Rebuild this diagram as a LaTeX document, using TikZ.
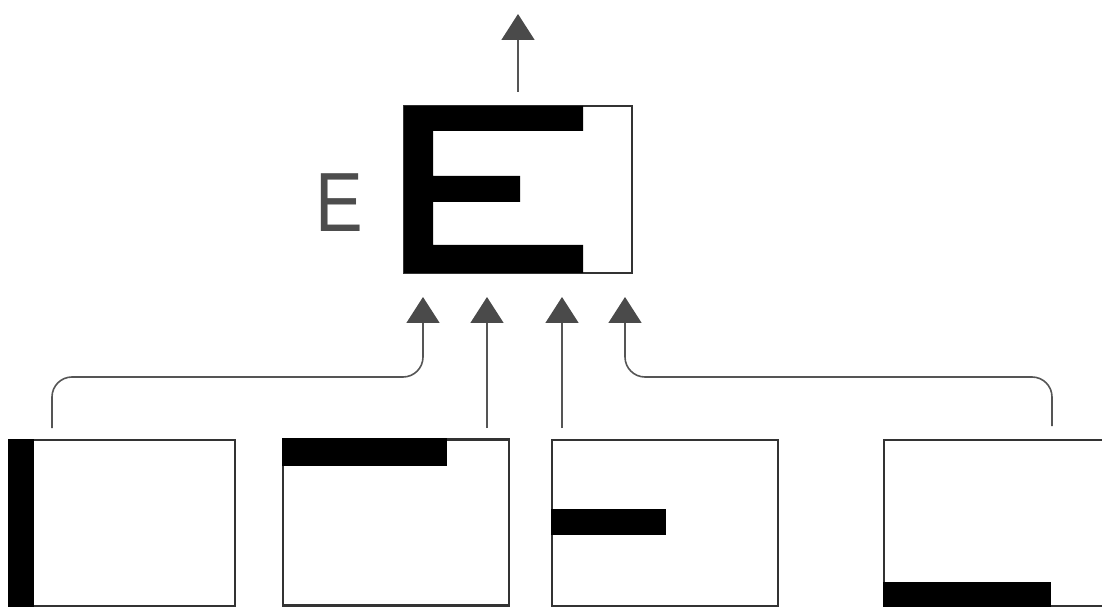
\documentclass[tikz,border=0pt]{standalone}
\usepackage{fontspec}
\setmainfont{Liberation Sans}
\usetikzlibrary{arrows.meta,calc}
\definecolor{linegray}{HTML}{555555}
\definecolor{boxgray}{HTML}{333333}
\definecolor{tipgray}{HTML}{4A4A4A}
\definecolor{lblgray}{HTML}{4D4D4D}
\tikzset{
  panel/.style={draw=boxgray, line width=2.6pt, fill=white, inner sep=0pt, minimum width=226pt, minimum height=166pt},
  bar/.style={fill=black, draw=none},
  conn/.style={draw=linegray, line width=1.6pt, rounded corners=20pt,
    -{Triangle[width=33pt,length=26pt,fill=tipgray,color=tipgray]}},
  lbl/.style={text=lblgray, inner sep=0pt, xscale=0.85, font=\fontsize{84}{84}\selectfont}
}
\begin{document}
\begin{tikzpicture}[x=1pt,y=1pt]
\useasboundingbox (0,0) rectangle (1102,608);
\fill[white] (0,0) rectangle (1102,608);
\clip (0,0) rectangle (1102,608);
% top box
\node[panel, minimum width=228pt, minimum height=167pt] (T) at (518,418.5) {};
\fill[bar] (404,335) -- (404,502) -- (583,502) -- (583,477) -- (433,477)
  -- (433,432) -- (520,432) -- (520,406) -- (433,406) -- (433,363)
  -- (583,363) -- (583,335) -- cycle;
\node[lbl, anchor=base] (L) at (339,376) {E};
% bottom boxes
\node[panel] (b1) at (122,85) {};
\fill[bar] (b1.south west) rectangle ($(b1.north west)+(26,0)$);
\node[panel] (b2) at (396,85.5) {};
\fill[bar] ($(b2.north west)+(0,-28)$) rectangle ($(b2.north west)+(165,0)$);
\node[panel] (b3) at (665,85) {};
\fill[bar] ($(b3.west)+(0,-12)$) rectangle ($(b3.west)+(115,14)$);
\node[panel] (b4) at (997,85) {};
\fill[bar] (b4.south west) rectangle ($(b4.south west)+(168,25)$);
% connector endpoints
\coordinate (s1) at (52,180);
\coordinate (s2) at (487,180);
\coordinate (s3) at (562,180);
\coordinate (s4) at (1052,182);
\coordinate (t1) at (423,311);
\coordinate (t2) at (487,311);
\coordinate (t3) at (562,311);
\coordinate (t4) at (625,311);
\coordinate (s0) at (518,516);
\coordinate (t0) at (518,594);
\draw[conn] (s1) |- (423,231) -- (t1);
\draw[conn] (s2) -- (t2);
\draw[conn] (s3) -- (t3);
\draw[conn] (s4) |- (625,231) -- (t4);
\draw[conn] (s0) -- (t0);
\end{tikzpicture}
\end{document}
